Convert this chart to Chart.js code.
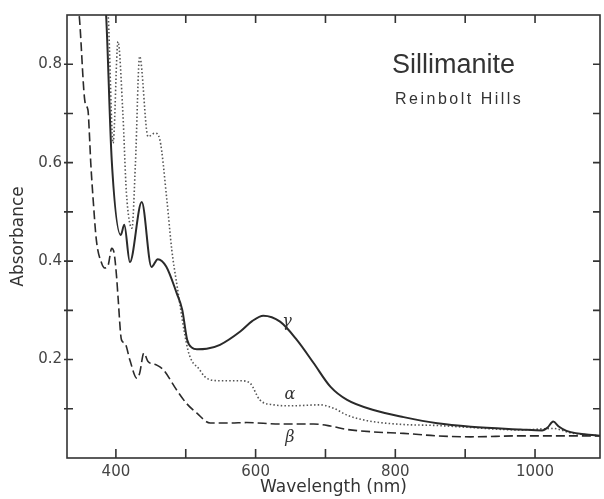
<!DOCTYPE html>
<html>
<head>
<meta charset="utf-8">
<script src="https://cdn.jsdelivr.net/npm/chart.js@4/dist/chart.umd.min.js"></script>
<style>
  html, body { margin: 0; padding: 0; background: #fff; }
</style>
</head>
<body>
<canvas id="spectrum" width="604" height="499"></canvas>
<script>
// gamma (solid line)
var gammaWl  = [380, 386, 394, 407, 412, 420, 437, 451, 460, 472, 487, 495, 502, 509, 516, 530, 549, 578, 595, 611, 635, 659, 683, 707, 731, 770, 812, 860, 908, 979, 1010, 1018, 1026, 1034, 1045, 1093];
var gammaAbs = [1.0, 0.9, 0.606, 0.453, 0.474, 0.398, 0.520, 0.388, 0.404, 0.389, 0.335, 0.301, 0.240, 0.224, 0.221, 0.222, 0.230, 0.257, 0.278, 0.289, 0.277, 0.240, 0.193, 0.145, 0.118, 0.097, 0.083, 0.0705, 0.0636, 0.058, 0.056, 0.062, 0.074, 0.064, 0.055, 0.045];

// alpha (dotted line)
var alphaWl  = [383, 389, 396, 403, 410, 415, 423, 428, 434, 446, 456, 463, 473, 480, 487, 503, 511, 516, 530, 549, 578, 592, 606, 626, 649, 692, 712, 731, 759, 778, 812, 860, 908, 979, 1026, 1051, 1093];
var alphaAbs = [1.0, 0.9, 0.64, 0.846, 0.70, 0.54, 0.467, 0.60, 0.816, 0.653, 0.66, 0.646, 0.524, 0.423, 0.355, 0.22, 0.192, 0.186, 0.162, 0.157, 0.157, 0.152, 0.118, 0.108, 0.106, 0.108, 0.101, 0.087, 0.076, 0.072, 0.068, 0.066, 0.062, 0.057, 0.060, 0.051, 0.045];

// beta (dashed line)
var betaWl  = [344, 348, 356, 360, 362, 364, 367.5, 372, 379.5, 384, 389, 394, 397.5, 401, 403, 408, 413, 420, 430, 434, 440, 446, 458, 468, 487, 501, 516, 535, 563, 587, 635, 683, 707, 731, 769, 812, 860, 908, 979, 1051, 1093];
var betaAbs = [0.95, 0.89, 0.721, 0.707, 0.66, 0.60, 0.524, 0.443, 0.396, 0.386, 0.392, 0.426, 0.416, 0.368, 0.328, 0.24, 0.233, 0.199, 0.162, 0.172, 0.213, 0.196, 0.189, 0.179, 0.138, 0.111, 0.091, 0.071, 0.071, 0.072, 0.069, 0.069, 0.065, 0.058, 0.053, 0.050, 0.045, 0.043, 0.045, 0.045, 0.045];

// axis ticks
var xTicks = [400, 500, 600, 700, 800, 900, 1000];
var xLabels = [400, 600, 800, 1000];
var yTicks = [0.1, 0.2, 0.3, 0.4, 0.5, 0.6, 0.7, 0.8];
var yLabels = [0.2, 0.4, 0.6, 0.8];

function pts(xs, ys) {
  return xs.map(function(x, i) { return { x: x, y: ys[i] }; });
}

var ink = '#333';

// frame with inward ticks on all four sides, plus the text on the plot
var framePlugin = {
  id: 'frame',
  afterDatasetsDraw: function(chart) {
    var ctx = chart.ctx, a = chart.chartArea;
    var xs = chart.scales.x, ys = chart.scales.y;
    ctx.save();
    ctx.strokeStyle = ink;
    ctx.lineWidth = 1.6;
    ctx.strokeRect(a.left, a.top, a.right - a.left, a.bottom - a.top);
    ctx.beginPath();
    xTicks.forEach(function(v) {
      var px = xs.getPixelForValue(v);
      ctx.moveTo(px, a.bottom); ctx.lineTo(px, a.bottom - 9);
      ctx.moveTo(px, a.top); ctx.lineTo(px, a.top + 8);
    });
    yTicks.forEach(function(v) {
      var py = ys.getPixelForValue(v);
      ctx.moveTo(a.left - 3, py); ctx.lineTo(a.left + 6, py);
      ctx.moveTo(a.right, py); ctx.lineTo(a.right - 7, py);
    });
    ctx.stroke();

    ctx.fillStyle = ink;
    ctx.textBaseline = 'middle';
    ctx.textAlign = 'left';
    ctx.font = '27px "Liberation Sans"';
    ctx.fillText('Sillimanite', 392, 66);
    ctx.font = '16px "Liberation Sans"';
    ctx.letterSpacing = '2.5px';
    ctx.fillText('Reinbolt Hills', 395, 100);
    ctx.letterSpacing = '0px';

    ctx.textAlign = 'center';
    ctx.font = 'italic 16px "DejaVu Serif"';
    ctx.fillText('γ', xs.getPixelForValue(645), ys.getPixelForValue(0.277));
    ctx.fillText('α', xs.getPixelForValue(649), ys.getPixelForValue(0.128));
    ctx.fillText('β', xs.getPixelForValue(649), ys.getPixelForValue(0.041));
    ctx.restore();
  }
};

var tickFont = { family: 'DejaVu Sans', size: 15 };
var titleFont = { family: 'DejaVu Sans', size: 17 };

var chart = new Chart(document.getElementById('spectrum').getContext('2d'), {
  type: 'line',
  data: {
    datasets: [{
      label: 'γ',
      data: pts(gammaWl, gammaAbs),
      borderColor: '#2a2a2a',
      borderWidth: 2,
      cubicInterpolationMode: 'monotone'
    }, {
      label: 'α',
      data: pts(alphaWl, alphaAbs),
      borderColor: '#555',
      borderWidth: 1.6,
      borderDash: [1.5, 2.2],
      cubicInterpolationMode: 'monotone'
    }, {
      label: 'β',
      data: pts(betaWl, betaAbs),
      borderColor: '#2a2a2a',
      borderWidth: 1.6,
      borderDash: [9, 4],
      cubicInterpolationMode: 'monotone'
    }]
  },
  options: {
    responsive: false,
    animation: false,
    devicePixelRatio: 1,
    elements: { point: { radius: 0 } },
    layout: { padding: { top: 15, right: 4, left: 0, bottom: 0 } },
    plugins: { legend: { display: false }, tooltip: { enabled: false } },
    scales: {
      x: {
        type: 'linear',
        min: 330,
        max: 1093,
        grid: { display: false, drawTicks: false },
        border: { display: false },
        afterBuildTicks: function(s) { s.ticks = xTicks.map(function(v) { return { value: v }; }); },
        afterFit: function(s) { s.height = 41; },
        ticks: {
          autoSkip: false,
          maxRotation: 0,
          padding: 5,
          color: '#444',
          font: tickFont,
          callback: function(v) { return xLabels.indexOf(v) >= 0 ? String(v) : ''; }
        },
        title: { display: true, text: 'Wavelength (nm)', color: ink, font: titleFont, padding: { top: 0, bottom: 1 } }
      },
      y: {
        min: 0,
        max: 0.9,
        grid: { display: false, drawTicks: false },
        border: { display: false },
        afterBuildTicks: function(s) { s.ticks = yTicks.map(function(v) { return { value: v }; }); },
        afterFit: function(s) { s.width = 67; },
        ticks: {
          autoSkip: false,
          padding: 5,
          color: '#444',
          font: tickFont,
          callback: function(v) {
            var r = Math.round(v * 10) / 10;
            return yLabels.indexOf(r) >= 0 ? r.toFixed(1) : '';
          }
        },
        title: { display: true, text: 'Absorbance', color: ink, font: titleFont, padding: { top: 8, bottom: 0 } }
      }
    }
  },
  plugins: [framePlugin]
});
</script>
</body>
</html>
